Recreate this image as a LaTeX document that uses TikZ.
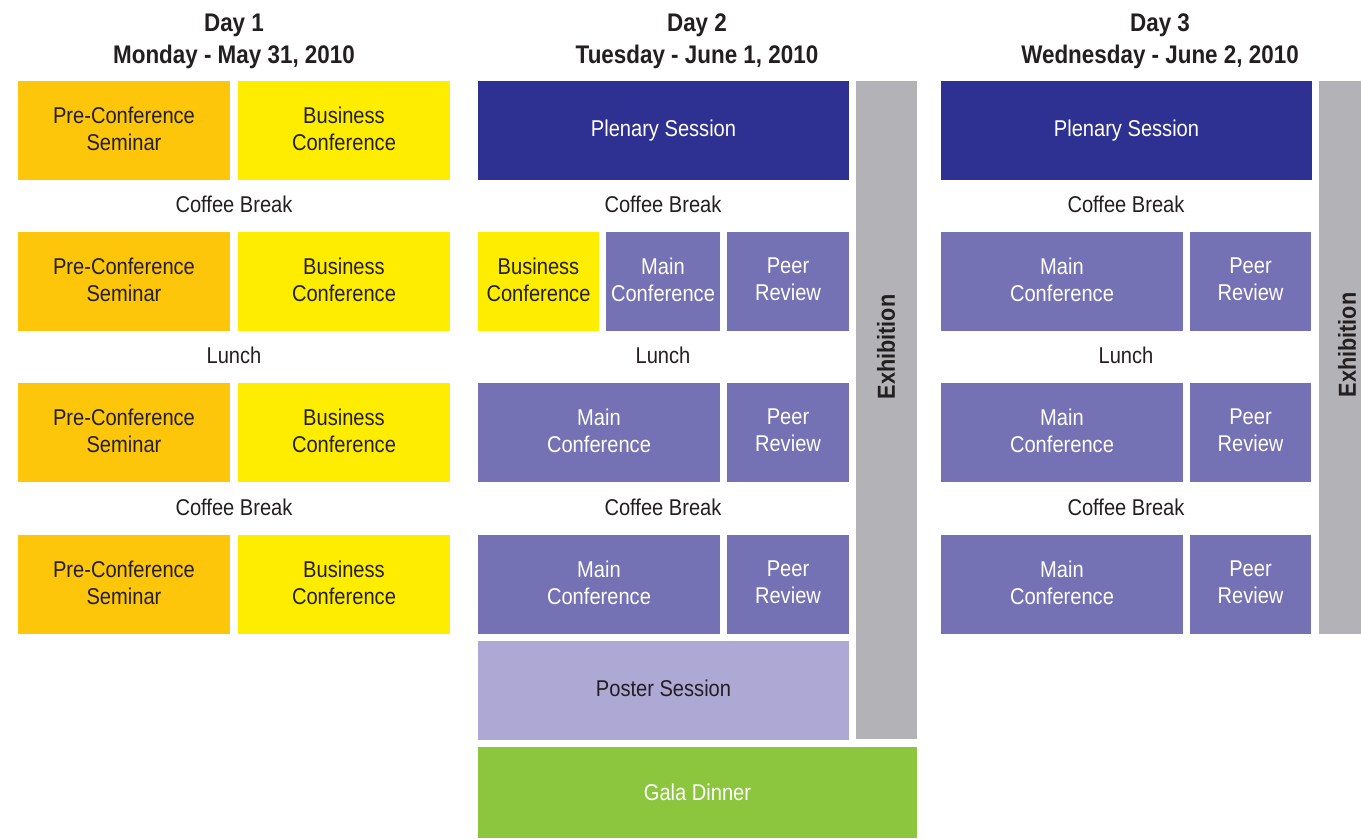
\documentclass[tikz,border=0pt]{standalone}
\usepackage{fontspec}
\setmainfont{Liberation Sans}[FakeStretch=0.88]

\definecolor{ink}{HTML}{231F20}
\definecolor{preconf}{HTML}{FDC60B}
\definecolor{business}{HTML}{FFED00}
\definecolor{plenary}{HTML}{2E3192}
\definecolor{mainconf}{HTML}{7571B5}
\definecolor{poster}{HTML}{ADA9D4}
\definecolor{exhib}{HTML}{B3B3B7}
\definecolor{gala}{HTML}{8CC63F}

\begin{document}
\begin{tikzpicture}[x=0.02cm,y=-0.02cm]
	\tikzset{Slot/.style 2 args={rectangle, inner sep=0pt, align=center, text=ink,
			minimum width=#1*0.02cm, minimum height=#2*0.02cm, text depth=0.08cm,
			font=\fontsize{13}{15.3}\selectfont}}
	\tikzstyle{Light} = [text=white]
	\tikzstyle{Break} = [inner sep=0pt, text=ink, font=\fontsize{13}{15.3}\selectfont]
	\tikzstyle{Head}  = [inner sep=0pt, align=center, text=ink, font=\fontsize{14.5}{18.1}\selectfont\bfseries]
	\tikzstyle{Vert}  = [inner sep=0pt, rotate=90, text=ink, font=\fontsize{14}{16}\selectfont\bfseries]
	\useasboundingbox (0,0) rectangle (1361,838);

	% Day 1
	\node[Head] (head1) at (234,41) {Day 1\\Monday - May 31, 2010};
	\node[Slot={212}{99}, fill=preconf]  (pre1) at (124,130.5) {Pre-Conference\\Seminar};
	\node[Slot={212}{99}, fill=business] (bus1) at (344,130.5) {Business\\Conference};
	\node[Break] (coffee1a) at (234,204) {Coffee Break};
	\node[Slot={212}{99}, fill=preconf]  (pre2) at (124,281.5) {Pre-Conference\\Seminar};
	\node[Slot={212}{99}, fill=business] (bus2) at (344,281.5) {Business\\Conference};
	\node[Break] (lunch1) at (234,355) {Lunch};
	\node[Slot={212}{99}, fill=preconf]  (pre3) at (124,432.5) {Pre-Conference\\Seminar};
	\node[Slot={212}{99}, fill=business] (bus3) at (344,432.5) {Business\\Conference};
	\node[Break] (coffee1b) at (234,507) {Coffee Break};
	\node[Slot={212}{99}, fill=preconf]  (pre4) at (124,584.5) {Pre-Conference\\Seminar};
	\node[Slot={212}{99}, fill=business] (bus4) at (344,584.5) {Business\\Conference};

	% Day 2
	\node[Head] (head2) at (697,41) {Day 2\\Tuesday - June 1, 2010};
	\node[Slot={371}{99}, fill=plenary, Light] (plen2) at (663.5,130.5) {Plenary Session};
	\node[Break] (coffee2a) at (663,204) {Coffee Break};
	\node[Slot={121}{99}, fill=business] (bus5) at (538.5,281.5) {Business\\Conference};
	\node[Slot={114}{99}, fill=mainconf, Light] (main2a) at (663,281.5) {Main\\Conference};
	\node[Slot={122}{99}, fill=mainconf, Light] (peer2a) at (788,281.5) {Peer\\Review};
	\node[Break] (lunch2) at (663,355) {Lunch};
	\node[Slot={242}{99}, fill=mainconf, Light] (main2b) at (599,432.5) {Main\\Conference};
	\node[Slot={122}{99}, fill=mainconf, Light] (peer2b) at (788,432.5) {Peer\\Review};
	\node[Break] (coffee2b) at (663,507) {Coffee Break};
	\node[Slot={242}{99}, fill=mainconf, Light] (main2c) at (599,584.5) {Main\\Conference};
	\node[Slot={122}{99}, fill=mainconf, Light] (peer2c) at (788,584.5) {Peer\\Review};
	\node[Slot={371}{99}, fill=poster] (poster2) at (663.5,690.5) {Poster Session};
	\node[Slot={61}{658}, fill=exhib] (exhib2) at (886.5,410) {};
	\node[Vert] (exhibtxt2) at (886,347) {Exhibition};
	\node[Slot={439}{91}, fill=gala, Light, text depth=0pt] (gala2) at (697.5,792.5) {Gala Dinner};

	% Day 3
	\node[Head] (head3) at (1160,41) {Day 3\\Wednesday - June 2, 2010};
	\node[Slot={371}{99}, fill=plenary, Light] (plen3) at (1126.5,130.5) {Plenary Session};
	\node[Break] (coffee3a) at (1126,204) {Coffee Break};
	\node[Slot={242}{99}, fill=mainconf, Light] (main3a) at (1062,281.5) {Main\\Conference};
	\node[Slot={121}{99}, fill=mainconf, Light] (peer3a) at (1250.5,281.5) {Peer\\Review};
	\node[Break] (lunch3) at (1126,355) {Lunch};
	\node[Slot={242}{99}, fill=mainconf, Light] (main3b) at (1062,432.5) {Main\\Conference};
	\node[Slot={121}{99}, fill=mainconf, Light] (peer3b) at (1250.5,432.5) {Peer\\Review};
	\node[Break] (coffee3b) at (1126,507) {Coffee Break};
	\node[Slot={242}{99}, fill=mainconf, Light] (main3c) at (1062,584.5) {Main\\Conference};
	\node[Slot={121}{99}, fill=mainconf, Light] (peer3c) at (1250.5,584.5) {Peer\\Review};
	\node[Slot={42}{553}, fill=exhib] (exhib3) at (1340,357.5) {};
	\node[Vert] (exhibtxt3) at (1347,345) {Exhibition};
\end{tikzpicture}
\end{document}
